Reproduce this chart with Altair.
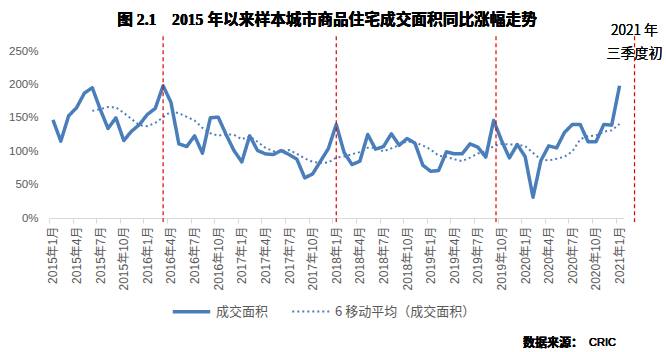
import altair as alt
import pandas as pd

# ---- data -----------------------------------------------------------------
months = [f"{y}年{m}月" for y in range(2015, 2022) for m in range(1, 13)][:73]

values = [147, 115, 153, 165, 187, 195, 163, 134, 150, 116, 130, 140,
          155, 164, 198, 173, 111, 107, 123, 97, 150, 151, 125, 101,
          84, 123, 101, 96, 95, 101, 95, 88, 60, 66, 85, 104,
          140, 98, 80, 85, 125, 103, 107, 126, 109, 119, 112, 79,
          70, 71, 99, 96, 96, 111, 106, 91, 146, 116, 90, 110,
          92, 31, 86, 108, 105, 128, 140, 140, 114, 114, 140, 139, 198]

tick_labels = months[::3]

series_names = ["成交面积", "6 移动平均（成交面积）"]
marker_pos = [14, 36, 56.3, 73.9]   # red dashed policy markers (month index)
annotation = ["2021 年", "三季度初"]

title_text = "图 2.1　2015 年以来样本城市商品住宅成交面积同比涨幅走势"
source_text = "数据来源："
source_org = "CRIC"

df = pd.DataFrame({"idx": list(range(len(values))), "month": months, "value": values})
markers = pd.DataFrame({"pos": marker_pos})

# ---- styling --------------------------------------------------------------
BLUE = "#4A7EBB"
GRAY = "#595959"
SANS = "Liberation Sans, Noto Sans CJK SC"
CJK = "Noto Sans CJK SC"

TOTAL_W, TOTAL_H = 666, 352
W, H = 574.5, 167
PAD_L, PAD_T = 49, 51
PAD_R, PAD_B = TOTAL_W - PAD_L - W, TOTAL_H - PAD_T - H

label_js = "[" + ",".join(f"'{t}'" for t in tick_labels) + "]"
band_px = W / len(values)

x_scale = alt.Scale(domain=[-0.5, len(values) - 0.5], nice=False, zero=False)
y_scale = alt.Scale(domain=[0, 250], nice=False)

x_axis = alt.Axis(
    values=[-0.5 + 3 * k for k in range(len(tick_labels))],
    labelExpr=f"{label_js}[round((datum.value + 0.5) / 3)]",
    labelOffset=band_px / 2,
    labelAngle=270,
    labelOverlap=False,
    labelBound=False,
    labelFont=SANS,
    labelFontSize=12,
    labelColor=GRAY,
    labelPadding=3,
    ticks=True,
    tickSize=5,
    tickColor="#D9D9D9",
    domainColor="#D9D9D9",
    grid=False,
    title=None,
)
y_axis = alt.Axis(
    values=[0, 50, 100, 150, 200, 250],
    labelExpr="datum.value + '%'",
    labelOverlap=False,
    labelBound=False,
    labelFlush=False,
    domain=False,
    ticks=False,
    grid=False,
    labelPadding=11,
    labelFont=SANS,
    labelFontSize=11.5,
    labelColor=GRAY,
    title=None,
)

legend = alt.Legend(
    orient="none",
    legendX=122,
    legendY=240,
    direction="horizontal",
    title=None,
    symbolType="stroke",
    symbolSize=1400,
    labelFont=CJK,
    labelFontSize=13,
    labelColor=GRAY,
    labelOffset=4,
    columnPadding=19,
    padding=0,
)
color_s = alt.Scale(domain=series_names, range=[BLUE, BLUE])
dash_s = alt.Scale(domain=series_names, range=[[1, 0], [2, 3]])
width_s = alt.Scale(domain=series_names, range=[3.5, 2])

base = alt.Chart(df)


def xq(field=None, datum=None):
    if datum is not None:
        return alt.X(datum=datum, type="quantitative", scale=x_scale, axis=x_axis)
    return alt.X(field, type="quantitative", scale=x_scale, axis=x_axis)


def yq(field=None, datum=None):
    if datum is not None:
        return alt.Y(datum=datum, type="quantitative", scale=y_scale, axis=y_axis)
    return alt.Y(field, type="quantitative", scale=y_scale, axis=y_axis)


def series_enc(field):
    return dict(
        x=xq("idx"),
        y=yq(field),
        color=alt.Color("series:N", scale=color_s, legend=legend),
        strokeDash=alt.StrokeDash("series:N", scale=dash_s, legend=legend),
        strokeWidth=alt.StrokeWidth("series:N", scale=width_s, legend=legend),
    )


main = (
    base.transform_calculate(series=f"'{series_names[0]}'")
    .mark_line(strokeJoin="round")
    .encode(**series_enc("value"))
)

ma = (
    base.transform_window(ma="mean(value)", frame=[-5, 0], sort=[{"field": "idx"}])
    .transform_filter("datum.idx >= 5")
    .transform_calculate(series=f"'{series_names[1]}'")
    .mark_line()
    .encode(**series_enc("ma"))
)

rules = (
    alt.Chart(markers)
    .mark_rule(color="#E00000", strokeDash=[4, 3], strokeWidth=1.2)
    .encode(
        x=xq("pos"),
        y=yq(datum=272),
        y2=alt.Y2(datum=-6),
    )
)

ann_style = dict(font=CJK, fontSize=14, fontWeight=300, color="black", align="center", baseline="middle")
ann1 = alt.Chart(markers).mark_text(text=annotation[0], **ann_style).encode(
    x=xq(datum=marker_pos[-1]), y=yq(datum=279.5)
)
ann2 = alt.Chart(markers).mark_text(text=annotation[1], **ann_style).encode(
    x=xq(datum=marker_pos[-1]), y=yq(datum=245)
)

title = alt.Chart(markers).mark_text(
    text=title_text,
    font="Liberation Serif, Noto Sans CJK SC",
    fontSize=15.7,
    fontWeight="bold",
    color="black",
    align="center",
    baseline="middle",
).encode(x=alt.value(327 - PAD_L), y=alt.value(20 - PAD_T))

src1 = alt.Chart(markers).mark_text(
    text=source_text, font=CJK, fontSize=12, fontWeight="bold", color="black", align="left", baseline="middle"
).encode(x=alt.value(523 - PAD_L), y=alt.value(343 - PAD_T))
src2 = alt.Chart(markers).mark_text(
    text=source_org, font=SANS, fontSize=11, color="black", align="left", baseline="middle"
).encode(x=alt.value(589 - PAD_L), y=alt.value(343 - PAD_T))

chart = (
    alt.layer(main, ma, rules, ann1, ann2, title, src1, src2)
    .properties(
        width=W,
        height=H,
        padding={"left": PAD_L, "top": PAD_T, "right": PAD_R, "bottom": PAD_B},
        autosize=alt.AutoSizeParams(type="none"),
        background="white",
    )
    .configure_view(stroke=None)
)

chart.save("out.html", embed_options={"renderer": "svg", "actions": False})
